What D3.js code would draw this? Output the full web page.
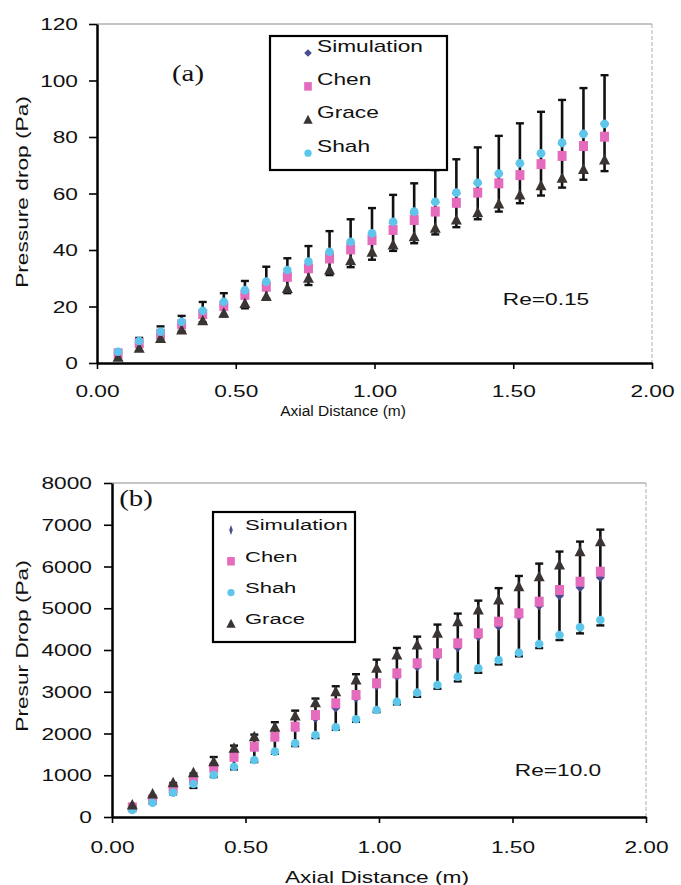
<!DOCTYPE html>
<html>
<head>
<meta charset="utf-8">
<script src="https://cdn.jsdelivr.net/npm/d3@7"></script>
<style>
  html, body { margin: 0; padding: 0; background: #fff; }
  svg { display: block; }
  text { font-family: "Liberation Sans", Arial, sans-serif; fill: #111; }
</style>
</head>
<body>
<svg id="chart" width="681" height="885"></svg>
<script>
// ---------------- DATA ----------------
const axialDistance = [0.076, 0.152, 0.229, 0.305, 0.381, 0.457, 0.533, 0.610, 0.686, 0.762, 0.838, 0.914,
                       0.991, 1.067, 1.143, 1.219, 1.295, 1.372, 1.448, 1.524, 1.600, 1.676, 1.753, 1.829];
const errorPercent = 20;

// (a) Re = 0.15
const simA   = [3.8, 7.4, 10.8, 13.9, 18.0, 20.6, 24.2, 28.4, 30.9, 34.5, 38.9, 42.4, 45.7, 49.6, 53.0, 56.9, 60.1, 63.6, 67.0, 70.7, 74.1, 77.6, 81.1, 84.9];
const chenA  = [3.4, 7.0, 10.3, 13.7, 17.3, 20.2, 24.1, 27.0, 30.5, 33.5, 37.0, 40.2, 43.5, 47.1, 50.6, 53.6, 56.7, 60.3, 63.6, 66.5, 70.4, 73.3, 76.8, 80.1];
const graceA = [2.0, 5.2, 8.7, 11.7, 15.0, 17.6, 21.1, 23.5, 26.4, 30.0, 32.9, 36.2, 39.2, 41.8, 44.7, 47.7, 50.6, 53.2, 56.3, 59.5, 62.7, 65.4, 68.5, 71.9];
const shahA  = [4.0, 7.8, 11.1, 14.6, 18.5, 21.7, 25.8, 28.8, 32.9, 35.9, 39.4, 42.9, 45.9, 50.0, 53.6, 57.1, 60.3, 63.8, 67.1, 70.7, 74.2, 78.0, 81.1, 84.6];

// (b) Re = 10.0
const simB   = [235, 400, 680, 870, 1197, 1425, 1645, 1892, 2123, 2364, 2610, 2850, 3141, 3373, 3600, 3841, 4060, 4319, 4568, 4811, 5058, 5298, 5497, 5736];
const chenB  = [230, 423, 686, 900, 1180, 1440, 1684, 1924, 2163, 2443, 2723, 2922, 3202, 3441, 3681, 3921, 4160, 4400, 4678, 4879, 5157, 5437, 5636, 5876];
const graceB = [287, 551, 822, 1062, 1325, 1645, 1924, 2148, 2419, 2738, 3001, 3281, 3561, 3880, 4120, 4400, 4678, 4958, 5198, 5516, 5756, 6036, 6355, 6594];
const shahB  = [168, 343, 583, 790, 1006, 1205, 1365, 1565, 1765, 1964, 2148, 2340, 2563, 2762, 2978, 3162, 3361, 3562, 3760, 3935, 4144, 4359, 4543, 4719];

const xTicks = [0, 0.5, 1.0, 1.5, 2.0];
const yTicksA = [0, 20, 40, 60, 80, 100, 120];
const yTicksB = [0, 1000, 2000, 3000, 4000, 5000, 6000, 7000, 8000];

const legendA = ["Simulation", "Chen", "Grace", "Shah"];
const legendB = ["Simulation", "Chen", "Shah", "Grace"];

// ---------------- STYLE ----------------
const COL = { sim: "#4a4e90", chen: "#e56bbd", shah: "#5ec6ea", grace: "#3a3532" };
const SX = 1.42; // horizontal stretch of the original lettering

const svg = d3.select("#chart");

function wideText(g, x, y, str, opts = {}) {
  const t = g.append("text")
    .attr("transform", `translate(${x},${y})${opts.rotate ? ` rotate(${opts.rotate})` : ""} scale(${opts.sx || SX},1)`)
    .attr("text-anchor", opts.anchor || "middle")
    .attr("dominant-baseline", "central")
    .style("font-size", (opts.size || 16) + "px")
    .text(str);
  if (opts.family) t.style("font-family", opts.family);
  return t;
}

function marker(g, type, x, y, s = 1) {
  if (type === "chen") {
    g.append("rect").attr("x", x - 4.5 * s).attr("y", y - 5 * s).attr("width", 9 * s).attr("height", 10 * s)
      .attr("fill", COL.chen);
  } else if (type === "shah") {
    g.append("circle").attr("cx", x).attr("cy", y).attr("r", 4.3 * s).attr("fill", COL.shah);
  } else if (type === "grace") {
    g.append("path").attr("d", `M${x},${y - 6 * s} L${x + 5.5 * s},${y + 4.5 * s} L${x - 5.5 * s},${y + 4.5 * s} Z`)
      .attr("fill", COL.grace);
  } else if (type === "sim") {
    g.append("path").attr("d", `M${x},${y - 4.5 * s} L${x + 4.5 * s},${y} L${x},${y + 4.5 * s} L${x - 4.5 * s},${y} Z`)
      .attr("fill", COL.sim);
  } else if (type === "simBar") {
    g.append("path").attr("d", `M${x},${y - 5} L${x + 1.8},${y} L${x},${y + 5} L${x - 1.8},${y} Z`)
      .attr("fill", COL.sim);
  }
}

function panel(cfg) {
  const g = svg.append("g");
  const { x, y } = cfg;
  const [x0, x1] = x.range();
  const [yb, yt] = y.range();

  // gray frame (top + right)
  g.append("line").attr("x1", x0).attr("x2", x1).attr("y1", yt).attr("y2", yt)
    .attr("stroke", "#8c8c8c").attr("stroke-width", 1.2);
  g.append("line").attr("x1", x1).attr("x2", x1).attr("y1", yt).attr("y2", yb)
    .attr("stroke", "#b0b0b0").attr("stroke-width", 1).attr("stroke-dasharray", "4,2");

  // axes
  const ax = g.append("g").attr("transform", `translate(0,${yb})`)
    .call(d3.axisBottom(x).tickValues(xTicks).tickFormat(d3.format(".2f")).tickSize(6).tickSizeOuter(0));
  const ay = g.append("g").attr("transform", `translate(${x0},0)`)
    .call(d3.axisLeft(y).tickValues(cfg.yTicks).tickFormat(d => d).tickSize(8).tickSizeOuter(0));
  [ax, ay].forEach(a => {
    a.select(".domain").attr("stroke", "#000").attr("stroke-width", 2.5);
    a.selectAll(".tick line").attr("stroke", "#000").attr("stroke-width", 1.6);
    a.selectAll("text").style("font-family", '"Liberation Sans", Arial, sans-serif')
      .style("font-size", "16px").attr("fill", "#111");
  });
  ax.selectAll(".tick text").attr("y", null).attr("dy", null)
    .attr("dominant-baseline", "central")
    .attr("transform", `translate(0,${cfg.xLabelOff}) scale(${SX},1)`);
  ay.selectAll(".tick text").attr("x", null).attr("dy", null)
    .attr("dominant-baseline", "central")
    .attr("transform", `translate(${-cfg.yLabelOff},0) scale(${SX},1)`);

  // error bars (simulation ± errorPercent)
  const eb = g.append("g");
  const cap = 4;
  cfg.sim.forEach((v, i) => {
    const xi = x(axialDistance[i]);
    const hi = y(v * (1 + errorPercent / 100)), lo = y(v * (1 - errorPercent / 100));
    eb.append("line").attr("x1", xi).attr("x2", xi).attr("y1", hi).attr("y2", lo)
      .attr("stroke", "#111").attr("stroke-width", 2.6);
    [hi, lo].forEach(yy => eb.append("line").attr("x1", xi - cap).attr("x2", xi + cap)
      .attr("y1", yy).attr("y2", yy).attr("stroke", "#111").attr("stroke-width", 2.4));
  });

  // series markers
  const mk = g.append("g");
  cfg.order.forEach(key => {
    cfg.series[key].forEach((v, i) => marker(mk, key, x(axialDistance[i]), y(v)));
  });

  // legend
  const L = cfg.legend;
  const lg = g.append("g");
  lg.append("rect").attr("x", L.x).attr("y", L.y).attr("width", L.w).attr("height", L.h)
    .attr("fill", "#fff").attr("stroke", "#000").attr("stroke-width", 2.2);
  L.names.forEach((name, i) => {
    const cy = L.firstY + i * L.step;
    const key = name === "Simulation" ? (L.simMarker || "sim") : name.toLowerCase();
    marker(lg, key, L.markerX, cy + L.markerDy, 0.85);
    wideText(lg, L.textX, cy, name, { anchor: "start", size: L.size, sx: L.sx });
  });

  // annotations
  wideText(g, cfg.tag.x, cfg.tag.y, cfg.tag.text, { size: 24, family: '"Liberation Serif", "Times New Roman", serif', sx: 1.2 });
  wideText(g, cfg.re.x, cfg.re.y, cfg.re.text, { size: 16 });
  wideText(g, cfg.xTitle.x, cfg.xTitle.y, "Axial Distance (m)", { size: cfg.xTitle.size, sx: cfg.xTitle.sx });
  wideText(g, cfg.yTitle.x, cfg.yTitle.y, cfg.yTitle.text, { size: 16, rotate: -90 });
}

panel({
  x: d3.scaleLinear().domain([0, 2]).range([97, 652]),
  y: d3.scaleLinear().domain([0, 120]).range([363, 24]),
  yTicks: yTicksA,
  xLabelOff: 28, yLabelOff: 19,
  sim: simA,
  series: { sim: simA, chen: chenA, grace: graceA, shah: shahA },
  order: ["sim", "chen", "grace", "shah"],
  legend: { x: 270, y: 36, w: 177, h: 134, names: legendA, firstY: 46, step: 33.4,
            textX: 317, markerX: 308, markerDy: 7, size: 16, sx: 1.42 },
  tag: { x: 188, y: 73, text: "(a)" },
  re: { x: 546, y: 299, text: "Re=0.15" },
  xTitle: { x: 343, y: 410, size: 15.5, sx: 1.0 },
  yTitle: { x: 22, y: 192, text: "Pressure drop (Pa)" }
});

panel({
  x: d3.scaleLinear().domain([0, 2]).range([112, 646]),
  y: d3.scaleLinear().domain([0, 8000]).range([817, 483]),
  yTicks: yTicksB,
  xLabelOff: 30, yLabelOff: 20,
  sim: simB,
  series: { sim: simB, chen: chenB, shah: shahB, grace: graceB },
  order: ["sim", "chen", "shah", "grace"],
  legend: { x: 213, y: 512, w: 142, h: 130, names: legendB, firstY: 525, step: 31.3,
            textX: 245, markerX: 231, markerDy: 5, size: 15.5, sx: 1.42, simMarker: "simBar" },
  tag: { x: 136, y: 498, text: "(b)" },
  re: { x: 558, y: 770, text: "Re=10.0" },
  xTitle: { x: 377, y: 877, size: 16, sx: 1.42 },
  yTitle: { x: 22, y: 646, text: "Presur Drop (Pa)" }
});
</script>
</body>
</html>
